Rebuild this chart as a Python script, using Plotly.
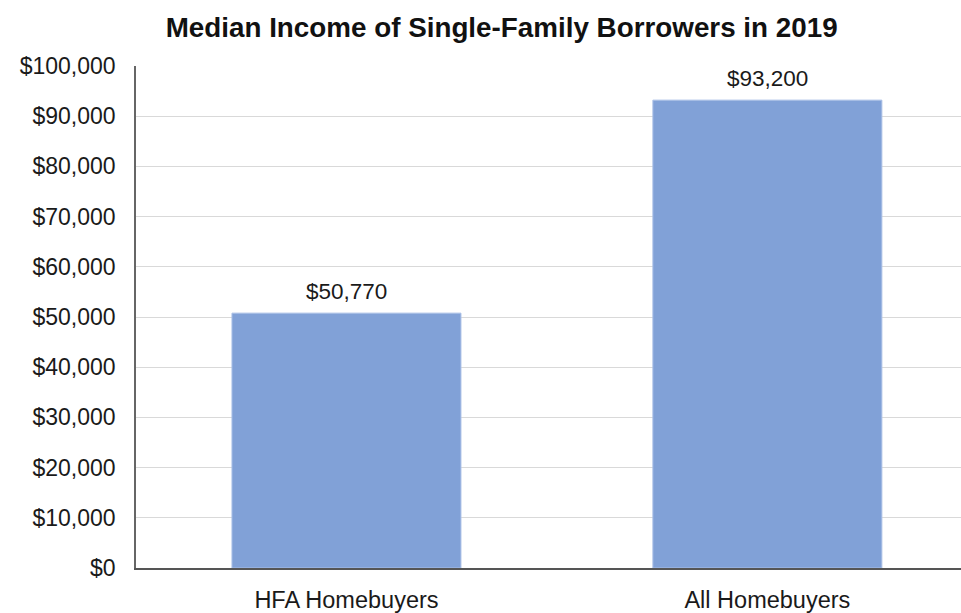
import plotly.graph_objects as go

categories = ["HFA Homebuyers", "All Homebuyers"]
values = [50770, 93200]
value_labels = ["$50,770", "$93,200"]
tick_vals = [0, 10000, 20000, 30000, 40000, 50000, 60000, 70000, 80000, 90000, 100000]
tick_text = ["$0", "$10,000", "$20,000", "$30,000", "$40,000", "$50,000",
             "$60,000", "$70,000", "$80,000", "$90,000", "$100,000"]

FONT = "Liberation Sans, Arial, sans-serif"

fig = go.Figure()
fig.add_trace(go.Bar(
    x=categories,
    y=values,
    width=0.544,
    marker=dict(color="#81a1d7", line=dict(color="#a9bfe6", width=1)),
    hoverinfo="skip",
))

for cat, val, lab in zip(categories, values, value_labels):
    fig.add_annotation(
        x=cat, y=val, text=lab, showarrow=False,
        yanchor="bottom", yshift=7,
        font=dict(family=FONT, size=22.5, color="#1a1a1a"),
    )

fig.update_layout(
    width=961, height=613,
    margin=dict(l=136, r=0, t=66, b=42),
    paper_bgcolor="white",
    plot_bgcolor="white",
    showlegend=False,
    title=dict(
        text="<b>Median Income of Single-Family Borrowers in 2019</b>",
        x=0.522, xanchor="center", y=0.956, yanchor="middle",
        font=dict(family=FONT, size=27.8, color="#111111"),
    ),
    xaxis=dict(
        range=[-0.5, 1.46],
        showline=True, linecolor="#555555", linewidth=1.5,
        showgrid=False, ticks="",
        ticklabelstandoff=10,
        tickfont=dict(family=FONT, size=23.5, color="#1a1a1a"),
        fixedrange=True,
    ),
    yaxis=dict(
        range=[0, 100000],
        tickvals=tick_vals, ticktext=tick_text,
        showline=True, linecolor="#666666", linewidth=1.5,
        showgrid=True, gridcolor="#d9d9d9", gridwidth=1,
        zeroline=False, ticks="",
        ticklabelstandoff=14,
        tickfont=dict(family=FONT, size=23, color="#1a1a1a"),
        fixedrange=True,
    ),
)

fig.write_html("out.html")
